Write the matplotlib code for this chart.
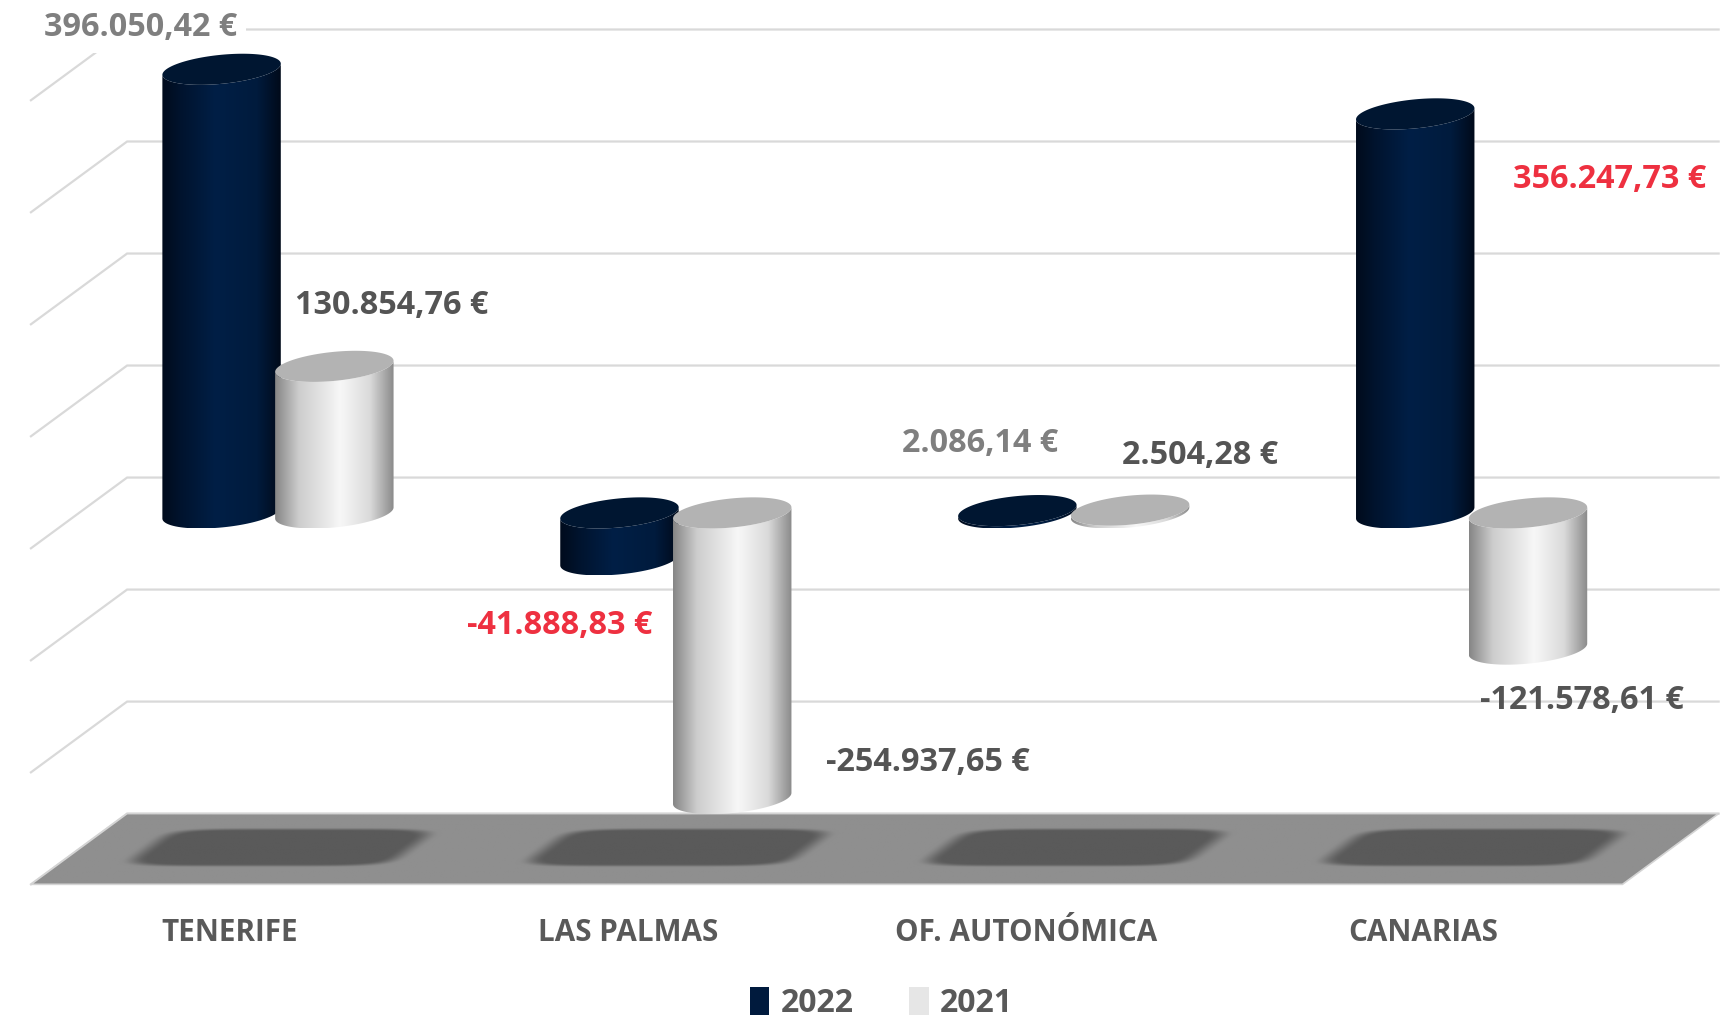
import numpy as np
import matplotlib.pyplot as plt
from matplotlib.colors import LinearSegmentedColormap
from matplotlib.patches import Patch, Polygon
from matplotlib.transforms import Affine2D

categories = ["TENERIFE", "LAS PALMAS", "OF. AUTONÓMICA", "CANARIAS"]
series_names = ["2022", "2021"]
values_2022 = [396050.42, -41888.83, 2086.14, 356247.73]
values_2021 = [130854.76, -254937.65, 2504.28, -121578.61]
grid_values = np.arange(-300000, 400001, 100000)

# label styling / placement (points, relative to the end of each bar)
colors_2022 = ["#7f7f7f", "#ee3040", "#7f7f7f", "#ee3040"]
colors_2021 = ["#545454", "#545454", "#545454", "#545454"]
offsets_2022 = [(-58, 30), (-43, -47), (-27, 48), (140, -47)]
offsets_2021 = [(41, 44), (141, 26), (50, 39), (39, -37)]

# oblique "3d" projection: depth d in [0, 1] (back wall -> front edge)
DX = -87 / 360
DV = -63160
FLOOR = -300000
BAR_D = 0.5
BAR_SHIFT = 0.1417
RX = 0.139
RD = 0.22

FONT = "Open Sans"
TXT = "#595959"


def proj(x, v, d):
    return x + d * DX, v + d * DV


def fmt(v):
    s = f"{v:,.2f}".replace(",", "X").replace(".", ",").replace("X", ".")
    return s + " €"


navy_side = LinearSegmentedColormap.from_list(
    "navy", [(0, "#000b1c"), (0.15, "#00132d"), (0.45, "#001f46"),
             (0.8, "#001b3d"), (1, "#000a1a")])
gray_side = LinearSegmentedColormap.from_list(
    "gray", [(0, "#868686"), (0.2, "#cdcdcd"), (0.55, "#f7f7f7"),
             (0.8, "#dadada"), (1, "#8a8a8a")])


def cylinder(ax, xc, v, cmap, top_color, z):
    lo, hi = min(0, v), max(0, v)
    phi = np.arctan2(RD * DX, RX)
    amp = np.hypot(RX, RD * DX)
    t = np.linspace(phi, phi + np.pi, 80)
    fx = xc + RX * np.cos(t) + (BAR_D + RD * np.sin(t)) * DX
    fd = (BAR_D + RD * np.sin(t)) * DV
    pts = np.vstack([np.column_stack([fx, lo + fd]),
                     np.column_stack([fx[::-1], hi + fd[::-1]])])
    side = Polygon(pts, closed=True, fill=False, lw=0, zorder=z)
    ax.add_patch(side)
    cx = xc + BAR_D * DX
    grad = np.linspace(0, 1, 256)[np.newaxis, :]
    im = ax.imshow(grad, cmap=cmap, aspect="auto", interpolation="bilinear",
                   extent=[cx - amp, cx + amp,
                           lo + (BAR_D + RD) * DV, hi + (BAR_D - RD) * DV],
                   zorder=z)
    im.set_clip_path(side)
    tt = np.linspace(0, 2 * np.pi, 160)
    ex = xc + RX * np.cos(tt) + (BAR_D + RD * np.sin(tt)) * DX
    ev = hi + (BAR_D + RD * np.sin(tt)) * DV
    ax.add_patch(Polygon(np.column_stack([ex, ev]), closed=True,
                         facecolor=top_color, lw=0, zorder=z + 0.5))


def floor_image():
    nu, nw = 800, 120
    u = np.linspace(-0.5, 3.5, nu)
    w = np.linspace(0, 1, nw)
    U, W = np.meshgrid(u, w)
    mask = np.zeros_like(U)
    for i in range(len(categories)):
        r = ((np.abs(U - i) / 0.33) ** 6 + (np.abs(W - 0.485) / 0.26) ** 6) ** (1 / 6)
        m = np.clip((1.1 - r) / 0.2, 0, 1)
        mask = np.maximum(mask, m * m * (3 - 2 * m))
    base, dark = 0x8f / 255, 0x5a / 255
    g = base - (base - dark) * mask
    return np.dstack([g, g, g])


fig = plt.figure(figsize=(17.33, 10.17), dpi=100)
ax = fig.add_axes([0, 0, 1, 1])
ax.axis("off")

# gridlines on back wall and left wall
for gv in grid_values:
    bx0, bv0 = proj(-0.5, gv, 0)
    bx1, bv1 = proj(3.5, gv, 0)
    fx0, fv0 = proj(-0.5, gv, 1)
    ax.plot([fx0, bx0, bx1], [fv0, bv0, bv1], color="#d9d9d9", lw=1.6,
            zorder=1, solid_joinstyle="miter")

# floor with soft shadows
corners = [proj(-0.5, FLOOR, 0), proj(3.5, FLOOR, 0),
           proj(3.5, FLOOR, 1), proj(-0.5, FLOOR, 1)]
floor_edge = Polygon(corners, closed=True, facecolor="none",
                     edgecolor="#d4d4d4", lw=1.2, zorder=2.5)
ax.add_patch(floor_edge)
floor_tr = Affine2D(np.array([[1, DX, 0], [0, DV, FLOOR], [0, 0, 1]]))
floor_im = ax.imshow(floor_image(), extent=[-0.5, 3.5, 0, 1], origin="lower",
                     aspect="auto", interpolation="bilinear",
                     transform=floor_tr + ax.transData, zorder=2)
floor_im.set_clip_path(floor_edge)

# cylinders
for i in range(len(categories)):
    cylinder(ax, i - BAR_SHIFT, values_2022[i], navy_side, "#001631", 3 + i * 2)
    cylinder(ax, i + BAR_SHIFT, values_2021[i], gray_side, "#b3b3b3", 4 + i * 2)

# data labels
for i in range(len(categories)):
    for vals, cols, offs, sh in [(values_2022, colors_2022, offsets_2022, -BAR_SHIFT),
                                 (values_2021, colors_2021, offsets_2021, BAR_SHIFT)]:
        ax_x, ax_v = proj(i + sh, vals[i], BAR_D)
        kw = {}
        if i == 0 and sh < 0:
            kw["bbox"] = dict(facecolor="white", edgecolor="none", pad=6)
        ax.annotate(fmt(vals[i]), (ax_x, ax_v), xytext=offs[i],
                    textcoords="offset points", ha="center", va="center",
                    fontsize=23.3, fontweight="bold", family=FONT,
                    color=cols[i], zorder=20, **kw)

# category labels below the floor
for i, name in enumerate(categories):
    lx, lv = proj(i, FLOOR, 1)
    ax.annotate(name, (lx, lv), xytext=(0, -35), textcoords="offset points",
                ha="center", va="center", fontsize=21.3, fontweight="bold",
                family=FONT, color=TXT, zorder=20)

ax.set_xlim(-295 / 360, (1568 - 295) / 360)
ax.set_ylim(-488 / 1.0133 * 1000, 432 / 1.0133 * 1000)

handles = [Patch(facecolor="#001a3d", edgecolor="none"),
           Patch(facecolor="#e6e6e6", edgecolor="none")]
leg = fig.legend(handles, series_names, loc="center", ncol=2,
                 bbox_to_anchor=(797.5 / 1568, 1 - 908 / 920), frameon=False,
                 handlelength=0.6, handleheight=0.95, handletextpad=0.35,
                 columnspacing=1.75,
                 prop={"family": FONT, "weight": "bold", "size": 23})
for txt in leg.get_texts():
    txt.set_color(TXT)

fig.savefig("out.png", dpi=100, facecolor="white")
